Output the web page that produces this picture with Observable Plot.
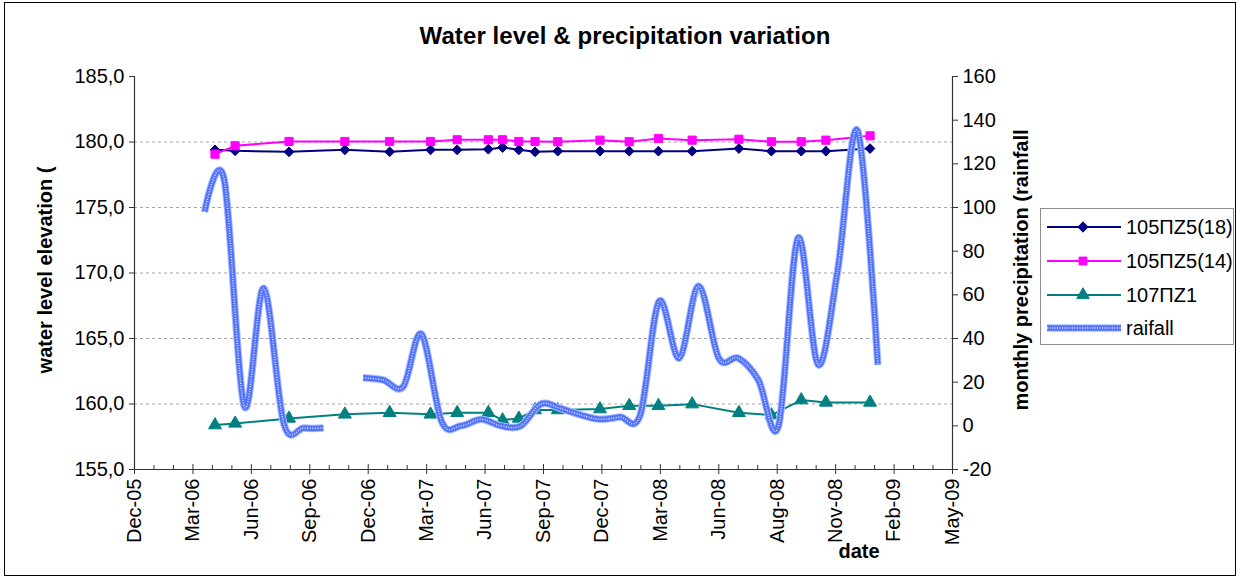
<!DOCTYPE html>
<html>
<head>
<meta charset="utf-8">
<script src="https://cdn.jsdelivr.net/npm/d3@7"></script>
<script src="https://cdn.jsdelivr.net/npm/@observablehq/plot@0.6"></script>
<style>
  body { margin: 0; background: #fff; }
  #wrap { position: relative; width: 1240px; height: 579px; font-family: "Liberation Sans", Arial, sans-serif; color: #000; overflow: hidden; }
  #wrap svg.plot { position: absolute; left: 0; top: 0; }
  .frame { position: absolute; left: 4px; top: 2px; width: 1232px; height: 574px; border: 1.5px solid #000; box-sizing: border-box; }
  .title { position: absolute; left: 0; width: 1250px; top: 22px; text-align: center; font-weight: bold; font-size: 24px; letter-spacing: 0.1px; }
  .ylab { position: absolute; font-weight: bold; font-size: 20px; white-space: nowrap; transform: translate(-50%, -50%) rotate(-90deg); }
  .xlab { position: absolute; font-weight: bold; font-size: 20px; transform: translate(-50%, -50%); }
  .legend { position: absolute; left: 1040px; top: 208px; width: 194px; height: 137px; border: 1px solid #8c8c8c; box-sizing: border-box; background: #fff; }
  .legend svg { position: absolute; left: 0; top: 0; }
</style>
</head>
<body>
<div id="wrap"></div>
<script>
// ---------------- data ----------------
const levelDates = ["2006-04-17","2006-05-18","2006-08-09","2006-11-03","2007-01-11","2007-03-15","2007-04-25",
  "2007-06-12","2007-07-04","2007-07-29","2007-08-23","2007-09-27","2007-12-01","2008-01-15","2008-02-29",
  "2008-04-21","2008-07-02","2008-08-21","2008-10-06","2008-11-13","2009-01-20"];
const well18 = [179.40,179.33,179.25,179.40,179.25,179.40,179.40,179.45,179.58,179.40,179.25,179.30,179.30,
  179.30,179.30,179.30,179.50,179.30,179.30,179.30,179.50];
const well14 = [179.07,179.71,180.04,180.04,180.04,180.04,180.17,180.17,180.17,180.04,180.04,180.02,180.14,
  180.02,180.27,180.14,180.21,180.02,180.02,180.14,180.47];
const well1 = [158.39,158.52,158.90,159.21,159.33,159.21,159.33,159.33,158.77,158.90,159.54,159.54,159.61,
  159.86,159.86,159.99,159.33,159.15,160.30,160.12,160.12];

const rainDates = ["2006-04-01","2006-05-01","2006-06-01","2006-07-01","2006-08-01","2006-09-01","2006-10-01",
  "2006-11-01","2006-12-01","2007-01-01","2007-02-01","2007-03-01","2007-04-01","2007-05-01","2007-06-01",
  "2007-07-01","2007-08-01","2007-09-01","2007-10-01","2007-11-01","2007-12-01","2008-01-01","2008-02-01",
  "2008-03-01","2008-04-01","2008-05-01","2008-06-01","2008-07-01","2008-08-01","2008-09-01","2008-10-01",
  "2008-11-01","2008-12-01","2009-01-01","2009-02-01"];
const rainfall = [98,113,9,63,1,-1,-1,
  null,22,21,18,42,2,0,3,
  0,0,10,8,5,3,4,5,
  57,31,64,31,31,21,0,86,
  28,71,135,28];

const seriesNames = ["105ΠΖ5(18)", "105ΠΖ5(14)", "107ΠΖ1", "raifall"];
const xTickDates = ["2005-12-14","2006-03-14","2006-06-12","2006-09-10","2006-12-09","2007-03-09","2007-06-07",
  "2007-09-05","2007-12-04","2008-03-03","2008-06-01","2008-08-30","2008-11-28","2009-02-26","2009-05-27"];
const leftTicks = [155,160,165,170,175,180,185];
const rightTicks = [-20,0,20,40,60,80,100,120,140,160];
const gridValues = [160,165,170,175,180];

// ---------------- build ----------------
const parse = s => new Date(s + "T00:00:00Z");
const majors = xTickDates.map(parse);
const minors = [];
for (let i = 0; i < majors.length - 1; i++) {
  minors.push(d3.utcDay.offset(majors[i], 30), d3.utcDay.offset(majors[i], 60));
}
const yMin = leftTicks[0], yMax = leftTicks[leftTicks.length - 1];
const rMin = rightTicks[0], rMax = rightTicks[rightTicks.length - 1];
const toLeft = r => yMin + (r - rMin) * (yMax - yMin) / (rMax - rMin);
const fromLeft = v => Math.round(rMin + (v - yMin) * (rMax - rMin) / (yMax - yMin));

const levels = levelDates.map((d, i) => ({date: parse(d), a: well18[i], b: well14[i], c: well1[i]}));
const rain = rainDates.map((d, i) => ({date: parse(d), v: rainfall[i] == null ? NaN : toLeft(rainfall[i])}));

const axisColor = "#333";
const NAVY = "#000080", PINK = "#ff00ff", TEAL = "#008080";
const smooth = {curve: "cardinal", tension: 0};

const chart = Plot.plot({
  width: 1240,
  height: 579,
  marginLeft: 134,
  marginRight: 288,
  marginTop: 76,
  marginBottom: 110,
  style: {fontFamily: "'Liberation Sans', Arial, sans-serif", fontSize: "20px", background: "transparent", color: "#000", overflow: "visible"},
  x: {type: "utc", domain: [majors[0], majors[majors.length - 1]]},
  y: {domain: [yMin, yMax]},
  marks: [
    Plot.ruleY(gridValues, {stroke: "#a6a6a6", strokeDasharray: "3,3", strokeWidth: 1}),
    Plot.axisY({anchor: "left", ticks: leftTicks, tickFormat: d => d.toFixed(1).replace(".", ","), tickSize: 5, tickPadding: 5, label: null, stroke: axisColor}),
    Plot.axisY({anchor: "right", ticks: rightTicks.map(toLeft), tickFormat: v => String(fromLeft(v)), tickSize: 5, tickPadding: 5, label: null, stroke: axisColor}),
    Plot.axisX({ticks: majors, tickFormat: d3.utcFormat("%b-%y"), tickRotate: -90, tickSize: 5, tickPadding: 4, label: null, stroke: axisColor}),
    Plot.ruleX(majors, {x: d => d, y1: yMin, y2: yMin, insetTop: -5, stroke: axisColor}),
    Plot.ruleX(minors, {x: d => d, y1: yMin, y2: yMin, insetTop: -4, stroke: axisColor}),
    Plot.ruleX([majors[0], majors[majors.length - 1]], {stroke: axisColor, strokeWidth: 1.2}),
    Plot.ruleY([yMin], {stroke: axisColor, strokeWidth: 1.2}),
    // water levels
    Plot.line(levels, {x: "date", y: "a", stroke: NAVY, strokeWidth: 2}),
    Plot.line(levels, {x: "date", y: "b", stroke: PINK, strokeWidth: 2}),
    Plot.line(levels, {x: "date", y: "c", stroke: TEAL, strokeWidth: 2}),
    Plot.dot(levels, {x: "date", y: "a", symbol: "diamond2", r: 4.4, fill: NAVY, stroke: NAVY, strokeWidth: 1}),
    Plot.dot(levels, {x: "date", y: "b", symbol: "square", r: 4.6, fill: PINK, stroke: PINK, strokeWidth: 1}),
    Plot.dot(levels, {x: "date", y: "c", symbol: "triangle", r: 4.8, fill: TEAL, stroke: TEAL, strokeWidth: 1}),
    // rainfall (secondary axis)
    Plot.line(rain, {x: "date", y: "v", ...smooth, stroke: "#a9bcff", strokeWidth: 7.5, strokeLinecap: "butt"}),
    Plot.line(rain, {x: "date", y: "v", ...smooth, stroke: "#5273fa", strokeWidth: 5.5, strokeLinecap: "butt"}),
    Plot.line(rain, {x: "date", y: "v", ...smooth, stroke: "#e6ecff", strokeWidth: 1.4, strokeDasharray: "1,1.5", strokeLinecap: "butt"})
  ]
});
chart.classList.add("plot");

const wrap = document.getElementById("wrap");
wrap.appendChild(chart);

function addDiv(cls, text, left, top) {
  const el = document.createElement("div");
  el.className = cls;
  el.textContent = text;
  if (left != null) el.style.left = left + "px";
  if (top != null) el.style.top = top + "px";
  wrap.appendChild(el);
  return el;
}
addDiv("frame", "");
addDiv("title", "Water level & precipitation variation");
addDiv("ylab", "water level elevation (", 45, 270);
addDiv("ylab", "monthly precipitation (rainfall", 1021, 270);
addDiv("xlab", "date", 859, 551);

// legend
const legend = document.createElement("div");
legend.className = "legend";
wrap.appendChild(legend);
const lsvg = d3.select(legend).append("svg").attr("width", 194).attr("height", 137);
const rowsY = [18, 52, 86, 119];
const colors = [NAVY, PINK, TEAL];
const shapes = [d3.symbolDiamond2, d3.symbolSquare, d3.symbolTriangle];
seriesNames.forEach((name, i) => {
  const y = rowsY[i];
  if (i < 3) {
    lsvg.append("line").attr("x1", 6).attr("x2", 80).attr("y1", y).attr("y2", y).attr("stroke", colors[i]).attr("stroke-width", 2);
    lsvg.append("path").attr("d", d3.symbol(shapes[i], i === 1 ? 62 : 68)()).attr("transform", `translate(42,${y})`).attr("fill", colors[i]).attr("stroke", colors[i]);
  } else {
    lsvg.append("line").attr("x1", 6).attr("x2", 80).attr("y1", y).attr("y2", y).attr("stroke", "#a9bcff").attr("stroke-width", 7.5);
    lsvg.append("line").attr("x1", 6).attr("x2", 80).attr("y1", y).attr("y2", y).attr("stroke", "#5273fa").attr("stroke-width", 5.5);
    lsvg.append("line").attr("x1", 6).attr("x2", 80).attr("y1", y).attr("y2", y).attr("stroke", "#e6ecff").attr("stroke-width", 1.4).attr("stroke-dasharray", "1,1.5");
  }
  lsvg.append("text").attr("x", 85).attr("y", y).attr("dy", "0.36em").attr("font-size", 20)
    .attr("font-family", "'Liberation Sans', Arial, sans-serif").text(name);
});
</script>
</body>
</html>
